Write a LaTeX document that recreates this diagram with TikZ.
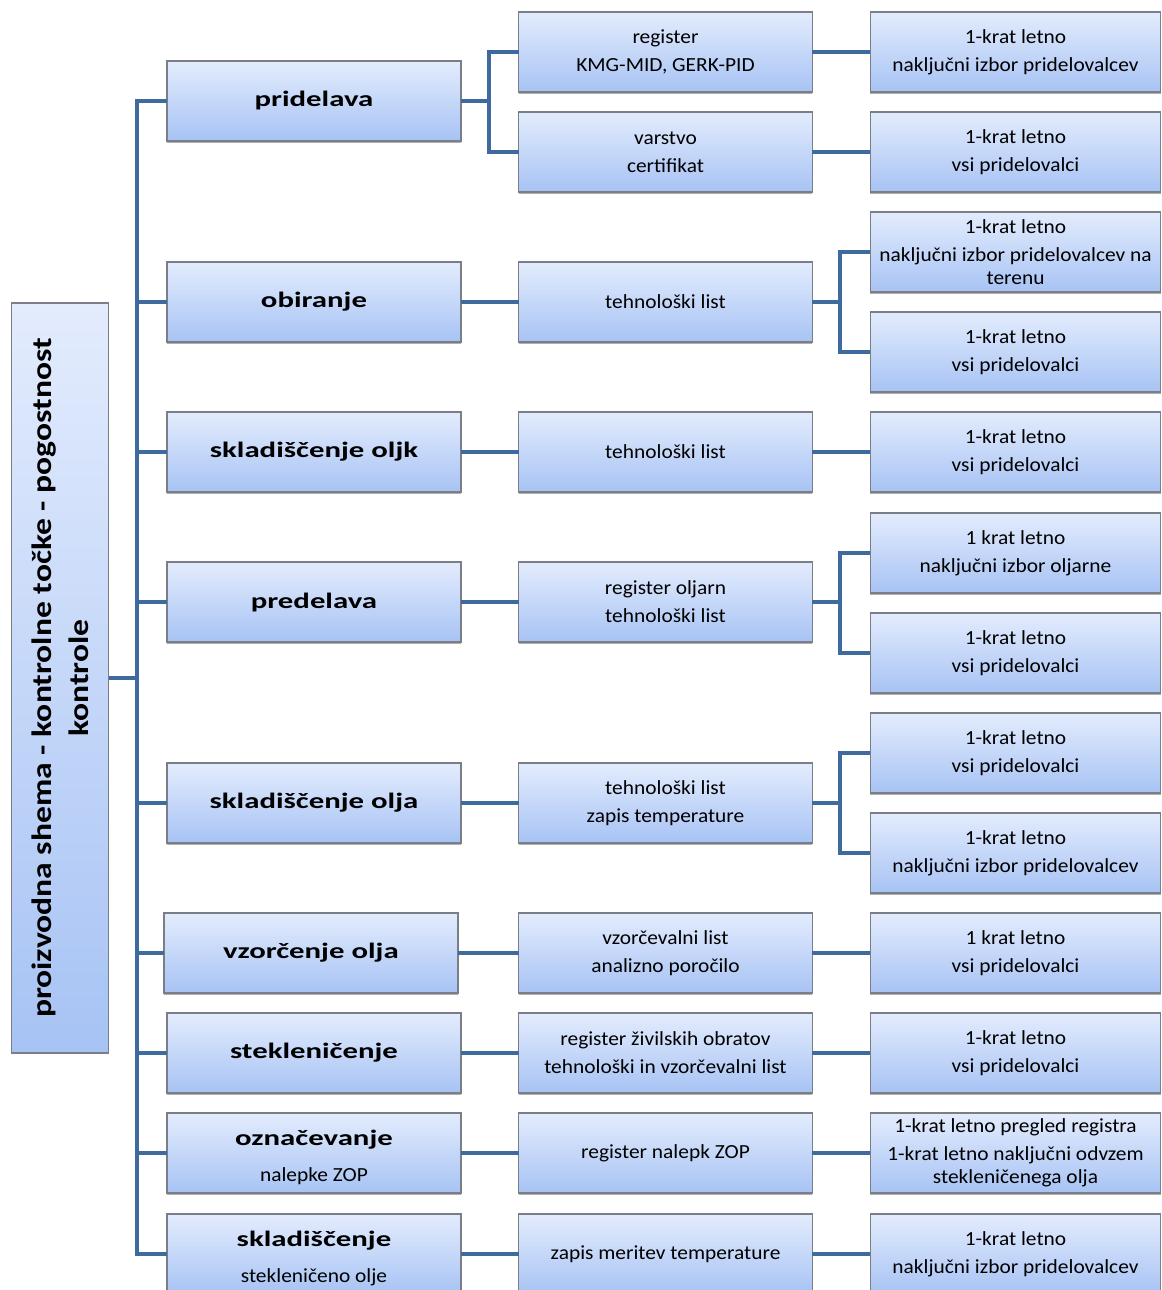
\documentclass[tikz,border=0pt]{standalone}
\usepackage{fontspec}
\setmainfont{Carlito}[FakeStretch=1.07]
\newfontfamily\stagefont{Carlito}[FakeStretch=1.4]
\newfontfamily\rootfont{Carlito}[FakeStretch=1.2]
\usetikzlibrary{shadows}
\definecolor{linkblue}{HTML}{3F6A9E}
\definecolor{boxtop}{HTML}{E3ECFD}
\definecolor{boxbot}{HTML}{A7C3F4}
\definecolor{boxline}{HTML}{7A7F87}
\newcommand{\subline}[1]{{\normalfont\fontsize{15}{17.25}\selectfont #1}}
\newcommand{\toprule}{\rule{0pt}{18pt}}
\tikzset{
  link/.style={draw=linkblue,line width=3.2pt},
  box/.style={draw=boxline,line width=.8pt,top color=boxtop,bottom color=boxbot,
              inner sep=0pt,outer sep=0pt,align=center,
              drop shadow={shadow xshift=0pt,shadow yshift=-1.5pt,opacity=.45,fill=black!70}},
  stage/.style={box,minimum width=220.5pt,minimum height=60pt,
                font=\stagefont\fontsize{16.5}{20}\selectfont\bfseries},
  record/.style={box,minimum width=220pt,minimum height=60pt,
                 font=\fontsize{15}{17.25}\selectfont},
  check/.style={box,minimum width=218pt,minimum height=60pt,
                font=\fontsize{15}{17.25}\selectfont},
  rootbox/.style={draw=boxline,line width=.8pt,top color=boxtop,bottom color=boxbot,
                  inner sep=0pt,outer sep=0pt,align=center,rotate=90,
                  minimum width=562.5pt,minimum height=72.75pt,
                  font=\rootfont\fontsize{21}{28}\selectfont\bfseries},
}

\begin{document}
\begin{tikzpicture}[x=0.75pt,y=-0.75pt]
  \useasboundingbox (0,0) rectangle (1162,1290);
  \clip (0,0) rectangle (1162,1290);

  \node[rootbox] (root) at (60,678) {proizvodna shema - kontrolne točke - pogostnost\\kontrole};
  \coordinate (trunk) at (137,678);

  % stages
  \node[stage] (s1) at (314,101) {pridelava};
  \node[stage] (s2) at (314,302) {obiranje};
  \node[stage] (s3) at (314,452) {skladiščenje oljk};
  \node[stage] (s4) at (314,602) {predelava};
  \node[stage] (s5) at (314,803) {skladiščenje olja};
  \node[stage] (s6) at (311,953) {vzorčenje olja};
  \node[stage] (s7) at (314,1053) {stekleničenje};
  \node[stage] (s8) at (314,1153) {\toprule označevanje\\[7pt]\subline{nalepke ZOP}};
  \node[stage] (s9) at (314,1254) {\toprule skladiščenje\\[7pt]\subline{stekleničeno olje}};

  % records
  \node[record] (r1a) at (665.5,52) {register\\[3.75pt]KMG-MID, GERK-PID};
  \node[record] (r1b) at (665.5,152) {varstvo\\[3.75pt]certifikat};
  \node[record] (r2) at (665.5,302) {tehnološki list};
  \node[record] (r3) at (665.5,452) {tehnološki list};
  \node[record] (r4) at (665.5,602) {register oljarn\\[3.75pt]tehnološki list};
  \node[record] (r5) at (665.5,803) {tehnološki list\\[3.75pt]zapis temperature};
  \node[record] (r6) at (665.5,953) {vzorčevalni list\\[3.75pt]analizno poročilo};
  \node[record] (r7) at (665.5,1053) {register živilskih obratov\\[3.75pt]tehnološki in vzorčevalni list};
  \node[record] (r8) at (665.5,1153) {register nalepk ZOP};
  \node[record] (r9) at (665.5,1254) {zapis meritev temperature};

  % checks
  \node[check] (c1a) at (1015.5,52) {1-krat letno\\[3.75pt]naključni izbor pridelovalcev};
  \node[check] (c1b) at (1015.5,152) {1-krat letno\\[3.75pt]vsi pridelovalci};
  \node[check] (c2a) at (1015.5,252) {1-krat letno\\[3.75pt]naključni izbor pridelovalcev na\\terenu};
  \node[check] (c2b) at (1015.5,352) {1-krat letno\\[3.75pt]vsi pridelovalci};
  \node[check] (c3) at (1015.5,452) {1-krat letno\\[3.75pt]vsi pridelovalci};
  \node[check] (c4a) at (1015.5,553) {1 krat letno\\[3.75pt]naključni izbor oljarne};
  \node[check] (c4b) at (1015.5,653) {1-krat letno\\[3.75pt]vsi pridelovalci};
  \node[check] (c5a) at (1015.5,753) {1-krat letno\\[3.75pt]vsi pridelovalci};
  \node[check] (c5b) at (1015.5,853) {1-krat letno\\[3.75pt]naključni izbor pridelovalcev};
  \node[check] (c6) at (1015.5,953) {1 krat letno\\[3.75pt]vsi pridelovalci};
  \node[check] (c7) at (1015.5,1053) {1-krat letno\\[3.75pt]vsi pridelovalci};
  \node[check] (c8) at (1015.5,1153) {1-krat letno pregled registra\\[3.75pt]1-krat letno naključni odvzem\\stekleničenega olja};
  \node[check] (c9) at (1015.5,1254) {1-krat letno\\[3.75pt]naključni izbor pridelovalcev};

  % links
  \draw[link] (root.south) -- (trunk);
  \foreach \n in {s1,s2,s3,s4,s5,s6,s7,s8,s9}
    \draw[link] (trunk) |- (\n.west);
  \draw[link] (s1.east) -- ++(28,0) |- (r1a.west);
  \draw[link] (s1.east) -- ++(28,0) |- (r1b.west);
  \foreach \n in {2,...,9}
    \draw[link] (s\n.east) -- (r\n.west);
  \draw[link] (r1a.east) -- (c1a.west);
  \draw[link] (r1b.east) -- (c1b.west);
  \draw[link] (r2.east) -- ++(28,0) |- (c2a.west);
  \draw[link] (r2.east) -- ++(28,0) |- (c2b.west);
  \draw[link] (r3.east) -- (c3.west);
  \draw[link] (r4.east) -- ++(28,0) |- (c4a.west);
  \draw[link] (r4.east) -- ++(28,0) |- (c4b.west);
  \draw[link] (r5.east) -- ++(28,0) |- (c5a.west);
  \draw[link] (r5.east) -- ++(28,0) |- (c5b.west);
  \foreach \n in {6,...,9}
    \draw[link] (r\n.east) -- (c\n.west);
\end{tikzpicture}
\end{document}
